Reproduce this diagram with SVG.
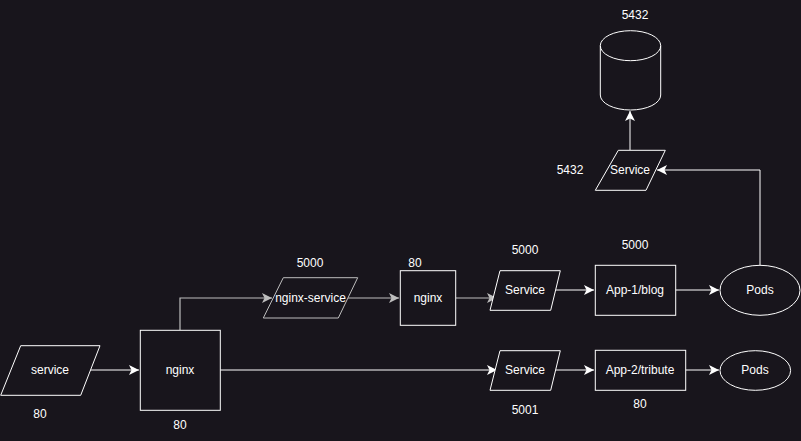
<svg xmlns="http://www.w3.org/2000/svg" width="801" height="441" viewBox="0 0 801 441">
<style>
.shape{fill:#18151c;stroke:#ffffff;stroke-width:1}
.gshape{fill:#18151c;stroke:#bdbdbd;stroke-width:1}
.edge{fill:none;stroke:#ffffff;stroke-width:1}
.gedge{fill:none;stroke:#bdbdbd;stroke-width:1.2}
text{font-family:"Liberation Sans",Arial,sans-serif;font-size:12px;fill:#ffffff;text-anchor:middle;dominant-baseline:central}
</style>
<defs>
<marker id="arr" markerUnits="userSpaceOnUse" markerWidth="10" markerHeight="10" viewBox="0 0 8 8" refX="8" refY="4" orient="auto">
<path d="M0,0 L8,4 L0,8 L2,4 Z" fill="#ffffff"/>
</marker>
<marker id="garr" markerUnits="userSpaceOnUse" markerWidth="10" markerHeight="10" viewBox="0 0 8 8" refX="8" refY="4" orient="auto">
<path d="M0,0 L8,4 L0,8 L2,4 Z" fill="#bdbdbd"/>
</marker>
</defs>
<rect width="801" height="441" fill="#18151c"/>
<g id="connectors">
<path class="edge" d="M90,370 L139,370" marker-end="url(#arr)"/>
<path class="gedge" d="M180,330 L180,298 L272,298" marker-end="url(#garr)"/>
<path class="gedge" d="M348,298 L399,298" marker-end="url(#garr)"/>
<path class="gedge" d="M456,298 L497,298" marker-end="url(#garr)"/>
<path class="edge" d="M550.7,290 L594,290" marker-end="url(#arr)"/>
<path class="edge" d="M675,290 L719,290" marker-end="url(#arr)"/>
<path class="edge" d="M760,265 L760,170 L657,170" marker-end="url(#arr)"/>
<path class="edge" d="M630,150 L630,111" marker-end="url(#arr)"/>
<path class="edge" d="M220,370 L497,370" marker-end="url(#arr)"/>
<path class="edge" d="M550.7,370 L594,370" marker-end="url(#arr)"/>
<path class="edge" d="M685,370 L719,370" marker-end="url(#arr)"/>
</g>
<g id="service-in">
<polygon class="shape" points="20.7,345.7 100,345.7 80.7,395.3 0.7,395.3"/>
<text x="50" y="370">service</text>
<text x="40" y="414">80</text>
</g>
<g id="nginx-main">
<rect class="shape" x="140.3" y="330.3" width="80" height="80"/>
<text x="180" y="370">nginx</text>
<text x="180" y="425">80</text>
</g>
<g id="nginx-service">
<polygon class="gshape" points="283.3,277.7 357.7,277.7 338.3,318 263.3,318"/>
<text x="310.5" y="298">nginx-service</text>
<text x="310" y="263">5000</text>
</g>
<g id="nginx-2">
<rect class="shape" x="400.3" y="270.7" width="55.4" height="54.6"/>
<text x="428" y="298">nginx</text>
<text x="415" y="263">80</text>
</g>
<g id="service-1">
<polygon class="shape" points="500,270.7 560.3,270.7 550.7,310.3 490,310.3"/>
<text x="525" y="290">Service</text>
<text x="525" y="250">5000</text>
</g>
<g id="app-1">
<rect class="shape" x="595.3" y="265.3" width="80.4" height="50"/>
<text x="635" y="290">App-1/blog</text>
<text x="635" y="245">5000</text>
</g>
<g id="pods-1">
<ellipse class="shape" cx="760" cy="290.3" rx="40" ry="25"/>
<text x="760" y="290">Pods</text>
</g>
<g id="service-2">
<polygon class="shape" points="500,350.7 560.3,350.7 550.7,390.3 490,390.3"/>
<text x="525" y="370">Service</text>
<text x="525" y="410">5001</text>
</g>
<g id="app-2">
<rect class="shape" x="595.3" y="350.3" width="90.4" height="40"/>
<text x="640" y="370">App-2/tribute</text>
<text x="640" y="404">80</text>
</g>
<g id="pods-2">
<ellipse class="shape" cx="755.3" cy="370.5" rx="35.3" ry="19.8"/>
<text x="755" y="370">Pods</text>
</g>
<g id="service-3">
<polygon class="shape" points="618.3,150.3 665.3,150.3 646,190.3 595.3,190.3"/>
<text x="630" y="170">Service</text>
<text x="570" y="170">5432</text>
</g>
<g id="database">
<path class="shape" d="M600.3,45.7 A30.2,15 0 0 1 660.7,45.7 L660.7,95 A30.2,15 0 0 1 600.3,95 Z"/>
<path class="edge" d="M600.3,45.7 A30.2,15 0 0 0 660.7,45.7"/>
<text x="635" y="15">5432</text>
</g>
</svg>
